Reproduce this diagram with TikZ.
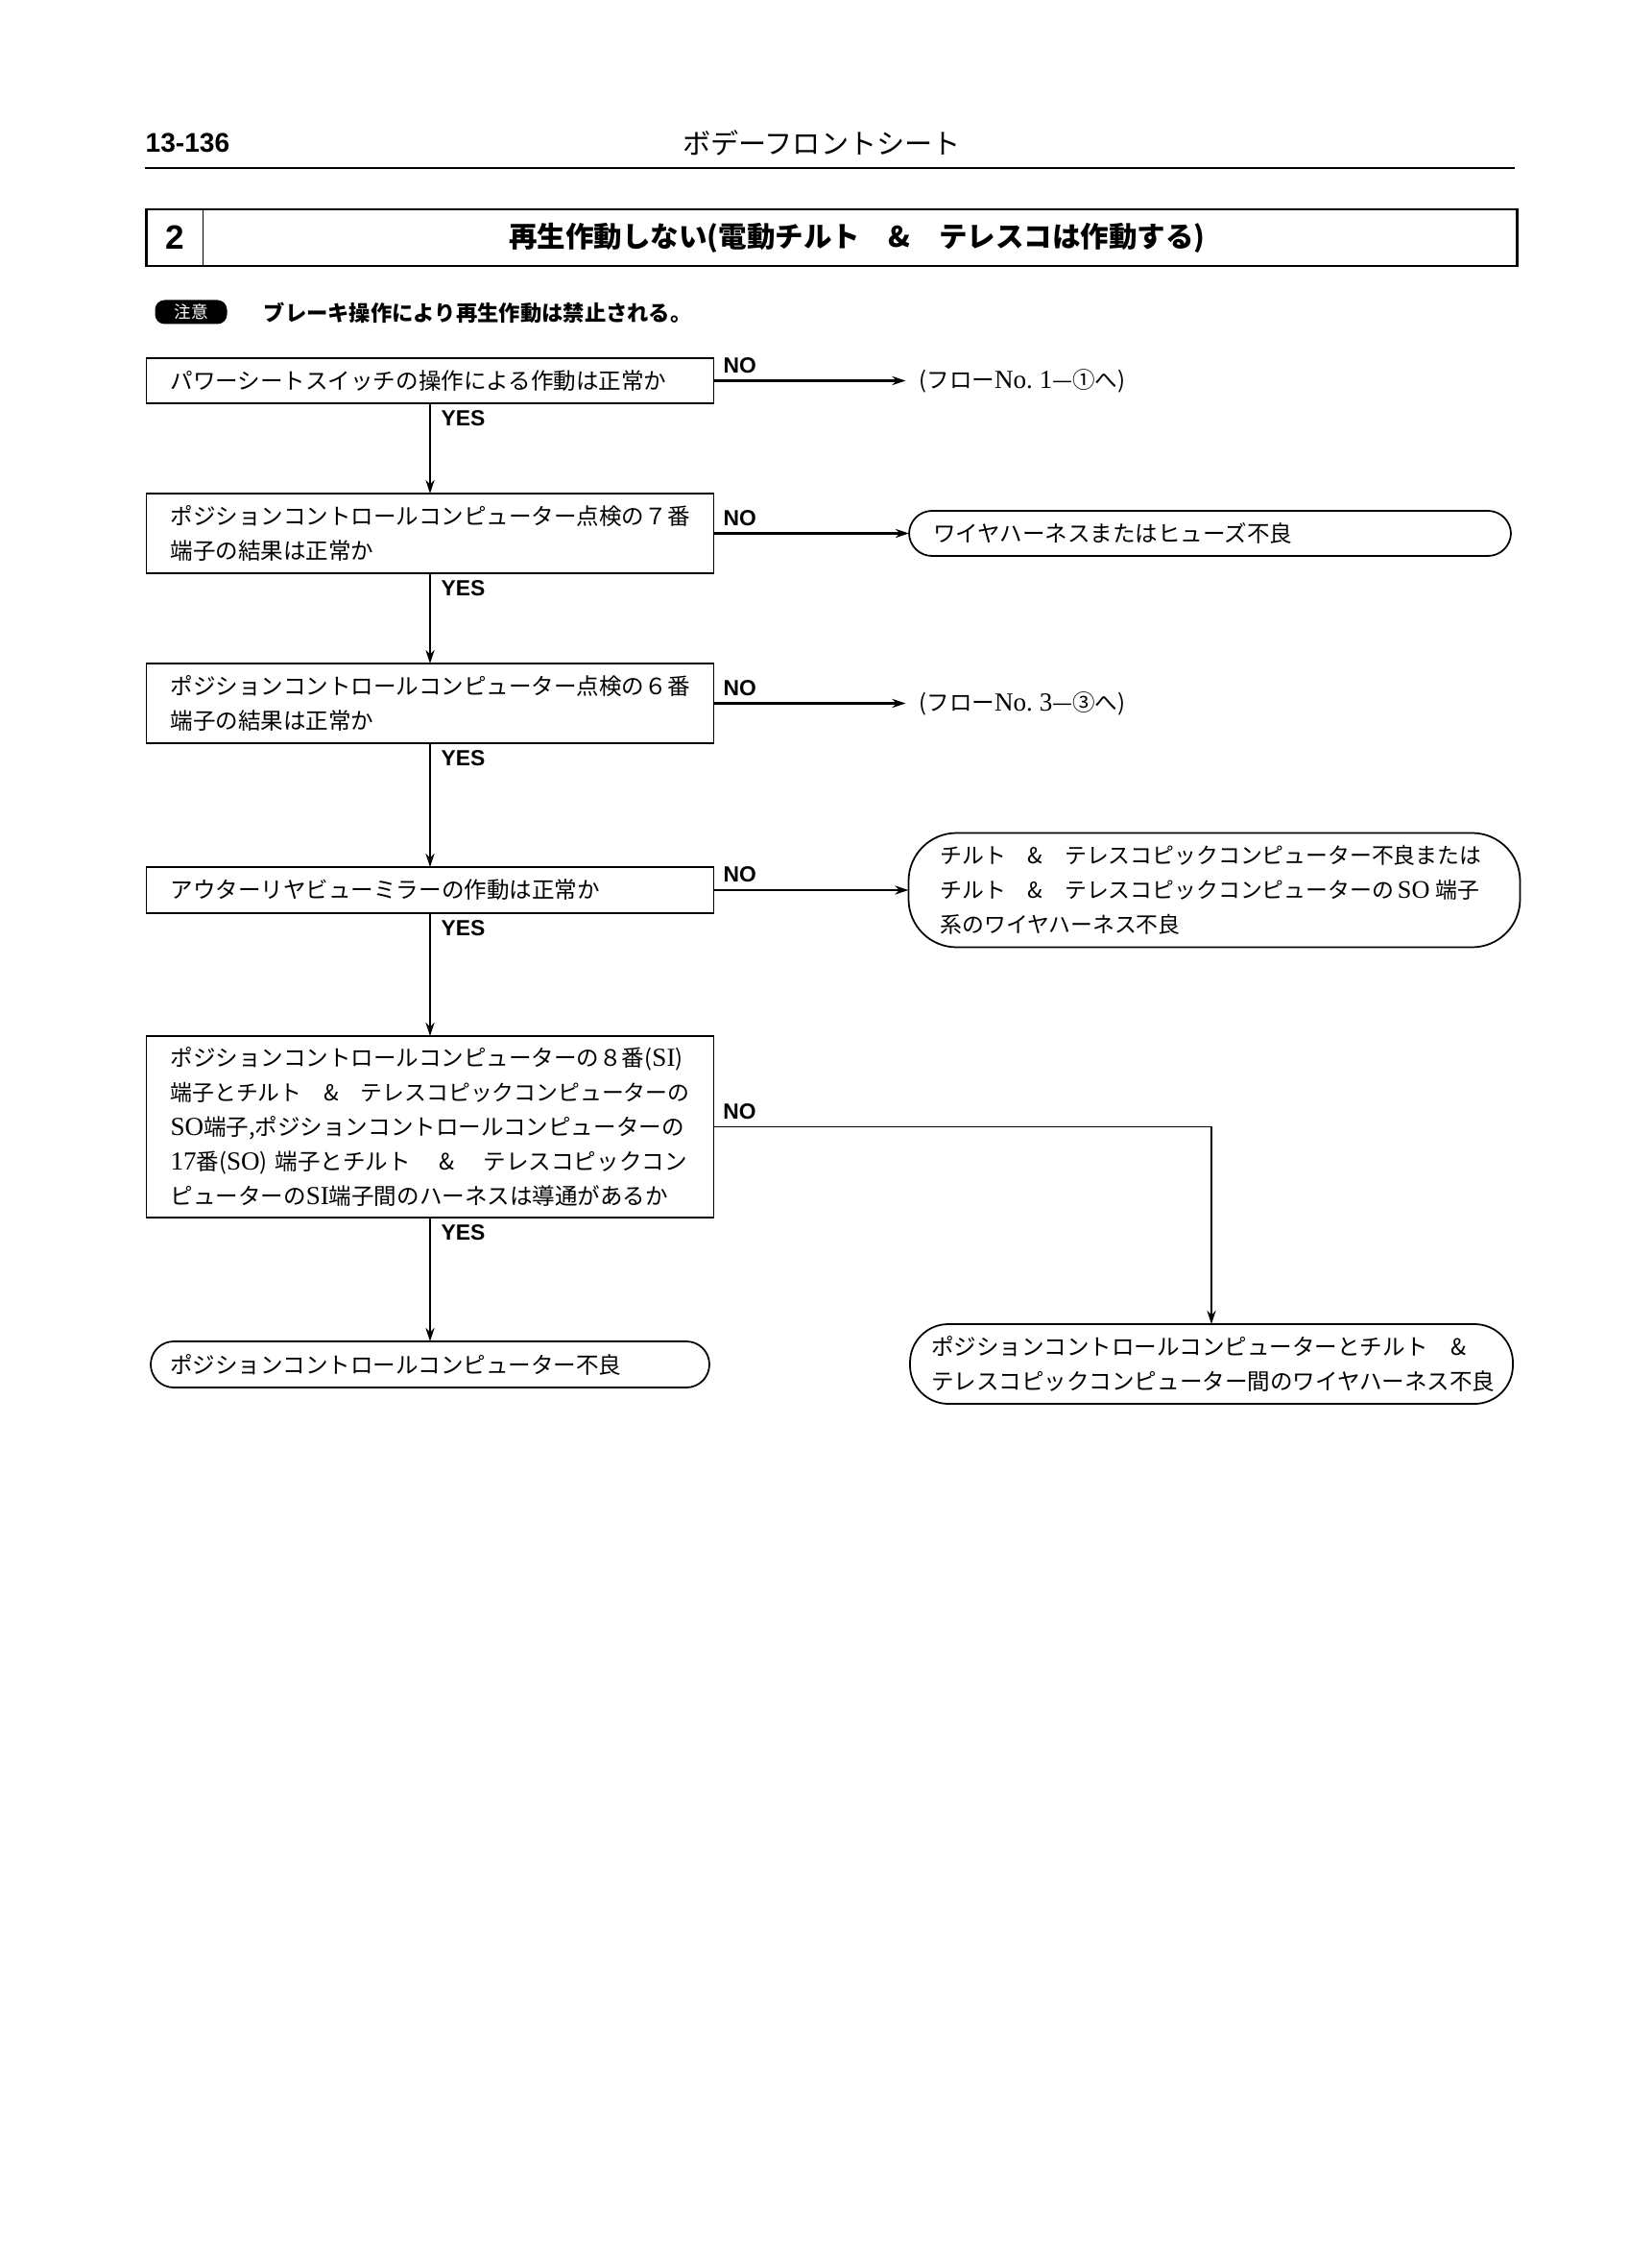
\documentclass[tikz,border=0pt]{standalone}
\usepackage{fontspec}
\usetikzlibrary{positioning, arrows.meta}
\setmainfont[Scale=1.15]{Liberation Serif}
\setsansfont{Liberation Sans}
\newfontfamily\cjk{Noto Sans CJK JP}
\newcommand{\lat}[1]{{\rmfamily #1}}
\newcommand{\tight}{\fontsize{6.5}{10.2}\selectfont}
\tikzset{
  chk/.style={
    rectangle, draw, line width=0.5pt, outer sep=0pt,
    minimum width=5.91cm, text width=5.41cm, inner xsep=0.25cm, inner ysep=0pt,
    align=left, font=\cjk\fontsize{6.7}{10.2}\selectfont
  },
  term/.style 2 args={
    rectangle, draw, line width=0.5pt, rounded corners=#1, outer sep=0pt,
    minimum width=#2, text width=#2-0.5cm, inner xsep=0.25cm, inner ysep=0pt,
    align=left, font=\cjk\fontsize{6.7}{10.2}\selectfont
  },
  flowref/.style={
    inner xsep=0.14cm, inner ysep=0pt, outer sep=0pt,
    font=\cjk\fontsize{6.7}{10.2}\selectfont
  },
  arr/.style={
    -{Stealth[length=4pt, width=2.6pt]}, line width=#1
  },
  lbl/.style={
    font=\sffamily\bfseries\fontsize{6.5}{7}\selectfont, inner sep=0pt
  }
}
\begin{document}
\begin{tikzpicture}
\useasboundingbox (0,0) rectangle (16.96,-23.62);

%% ── Page header ──────────────────────────────────────────────────
\node[font=\sffamily\bfseries\fontsize{8}{9}\selectfont, inner sep=0pt, anchor=west] (pageno) at (1.51,-1.49) {13-136};
\node[font=\cjk\fontsize{8.3}{10}\selectfont, inner sep=0pt] (head) at (8.56,-1.49) {ボデーフロントシート};
\coordinate (ruleL) at (1.51,-1.75);
\coordinate (ruleR) at (15.78,-1.75);
\draw[line width=0.7pt] (ruleL) -- (ruleR);

%% ── Title box ────────────────────────────────────────────────────
\node[draw, line width=0.8pt, outer sep=0pt, minimum width=14.28cm, minimum height=0.59cm, inner sep=0pt] (frame) at (8.665,-2.475) {};
\node[minimum width=0.59cm, minimum height=0.59cm, inner sep=0pt, outer sep=0pt, font=\sffamily\bfseries\fontsize{10}{12}\selectfont, right=0pt of frame.west] (num) {2};
\draw[line width=0.3pt] (num.north east) -- (num.south east);
\node[font=\cjk\bfseries\fontsize{8.4}{10}\selectfont, inner sep=0pt] (title) at (8.93,-2.48) {再生作動しない(電動チルト　\&　テレスコは作動する)};

%% ── Caution note ─────────────────────────────────────────────────
\node[fill=black, text=white, rounded corners=0.1cm, minimum width=0.75cm, minimum height=0.25cm, inner sep=0pt, font=\cjk\fontsize{5}{6}\selectfont] (badge) at (1.99,-3.25) {注意};
\node[font=\cjk\bfseries\fontsize{6.35}{8}\selectfont, inner sep=0pt, anchor=west] (note) at (2.74,-3.26) {ブレーキ操作により再生作動は禁止される。};

%% ── Check boxes ──────────────────────────────────────────────────

% power seat switch
\node[chk, minimum height=0.47cm] (sw) at (4.48,-3.965) {パワーシートスイッチの操作による作動は正常か};

% terminal 7
\node[chk, minimum height=0.83cm, below=0.94cm of sw] (pin7) {ポジションコントロールコンピューター点検の７番\\端子の結果は正常か};

% terminal 6
\node[chk, minimum height=0.83cm, below=0.94cm of pin7] (pin6) {ポジションコントロールコンピューター点検の６番\\端子の結果は正常か};

% outer mirror
\node[chk, minimum height=0.48cm, below=1.29cm of pin6] (mirror) {アウターリヤビューミラーの作動は正常か};

% harness
\node[chk, minimum height=1.89cm, below=1.28cm of mirror] (harness) {ポジションコントロールコンピューターの８番(\lat{SI})\\{\tight 端子とチルト　\&　テレスコピックコンピューターの}\\\lat{SO}端子,ポジションコントロールコンピューターの\\\lat{17}番(\lat{SO})~端子とチルト\hspace{0.3cm}\&\hspace{0.3cm}テレスコピックコン\\ピューターの\lat{SI}端子間のハーネスは導通があるか};

%% ── Results ──────────────────────────────────────────────────────

\node[flowref, right=2.0cm of sw] (ref1) {(フロー\lat{No.~1}—①へ)};
\node[term={0.24cm}{6.27cm}, minimum height=0.47cm, inner xsep=0.23cm, right=2.035cm of pin7] (fuse) {ワイヤハーネスまたはヒューズ不良};
\node[flowref, right=2.0cm of pin6] (ref3) {(フロー\lat{No.~3}—③へ)};
\node[term={0.5cm}{6.37cm}, minimum height=1.19cm, inner xsep=0.33cm, text width=5.71cm, right=2.03cm of mirror, font=\cjk\fontsize{6.5}{10.2}\selectfont] (tilt) {チルト　\&　テレスコピックコンピューター不良または\\チルト　\&　テレスコピックコンピューターの\hspace{0.04cm}\lat{SO}\hspace{0.06cm}端子\\系のワイヤハーネス不良};
\node[term={0.24cm}{5.82cm}, minimum height=0.48cm, inner xsep=0.2cm, text width=5.42cm, below=1.29cm of harness] (ecu) {ポジションコントロールコンピューター不良};
\node[term={0.4cm}{6.28cm}, minimum height=0.83cm, inner xsep=0.22cm, text width=5.84cm, anchor=north] (wire) at (12.62,-13.79) {ポジションコントロールコンピューターとチルト　\&\\テレスコピックコンピューター間のワイヤハーネス不良};

%% ── Arrows ───────────────────────────────────────────────────────

% YES
\foreach \a/\b in {sw/pin7, pin7/pin6, pin6/mirror, mirror/harness, harness/ecu}
  \draw[arr=0.4pt] (\a.south) -- (\b.north)
    node[lbl, pos=0, below right={0.07cm and 0.11cm}] {YES};

% NO
\foreach \a/\b in {sw/ref1, pin7/fuse, pin6/ref3, mirror/tilt}
  \draw[arr=0.6pt] (\a.east) -- (\b.west)
    node[lbl, pos=0, above right={0.07cm and 0.09cm}] {NO};
\draw[arr=0.5pt] (harness.east) -| (wire.north)
  node[lbl, pos=0, above right={0.07cm and 0.09cm}] {NO};

\end{tikzpicture}
\end{document}
